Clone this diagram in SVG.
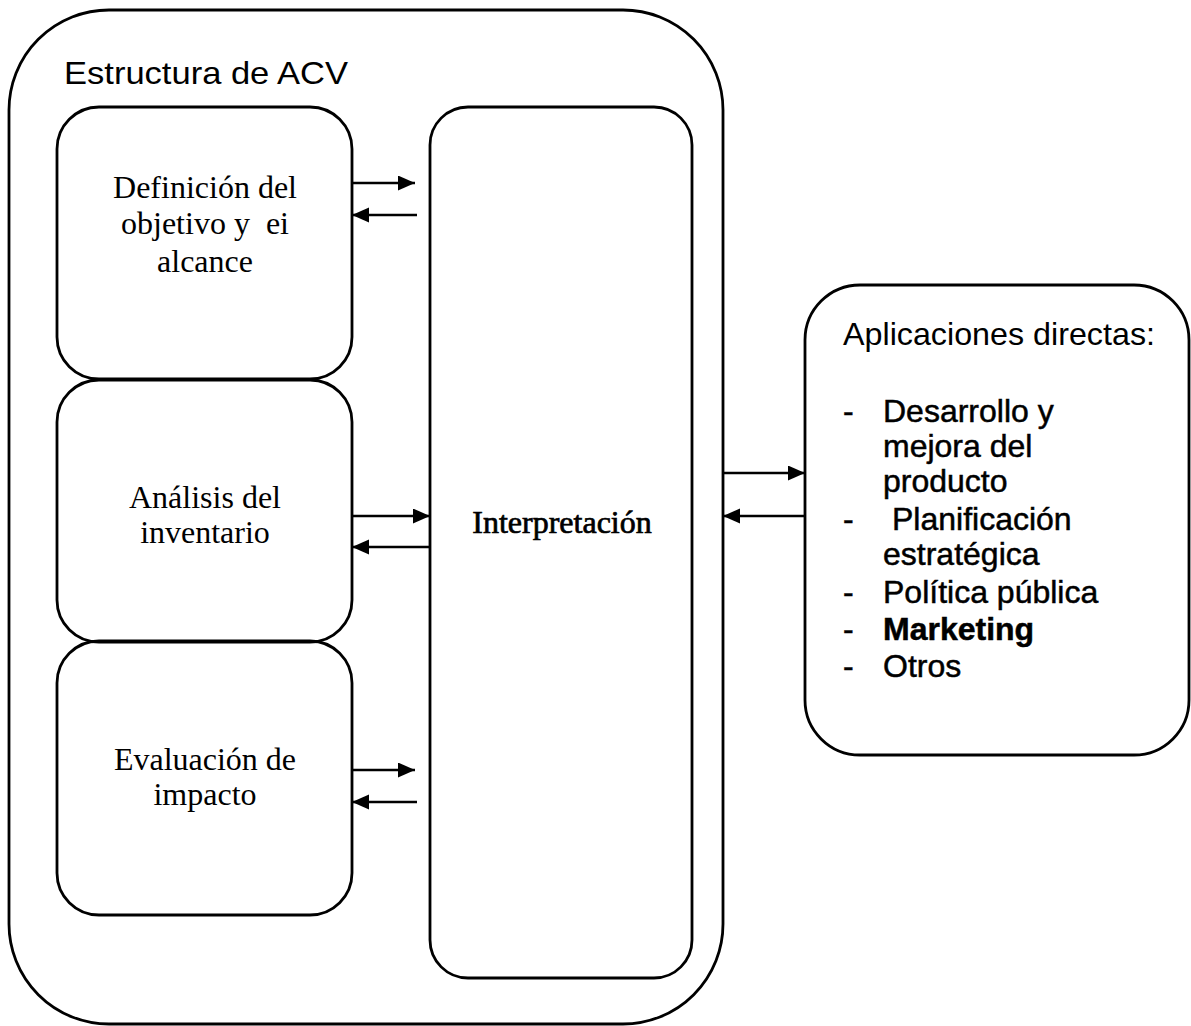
<svg xmlns="http://www.w3.org/2000/svg" width="1191" height="1026" viewBox="0 0 1191 1026">
<style>
.box{fill:none;stroke:#000;stroke-width:2.8}
.serif{font-family:"Liberation Serif","Times New Roman",serif;font-size:32px;fill:#000;text-anchor:middle}
.sans{font-family:"Liberation Sans",Arial,sans-serif;font-size:32px;fill:#000}
.item{stroke:#000;stroke-width:0.5}
.conn{stroke:#000;stroke-width:2.4;fill:none;marker-end:url(#ah)}
</style>
<defs>
<marker id="ah" markerUnits="userSpaceOnUse" markerWidth="18" markerHeight="16" refX="17" refY="7.5" orient="auto">
<path d="M0,0 L17,7.5 L0,15 z" fill="#000"/>
</marker>
</defs>
<g id="outer">
<rect class="box" x="9" y="10" width="714" height="1014" rx="100" ry="100"/>
<text class="sans" x="64" y="84" font-size="33" textLength="284" lengthAdjust="spacingAndGlyphs">Estructura de ACV</text>
</g>
<g id="definicion">
<rect class="box" x="57" y="107" width="295" height="272" rx="42" ry="42"/>
<text class="serif" x="205" y="198">Definición del</text>
<text class="serif" x="205" y="234" xml:space="preserve">objetivo y  ei</text>
<text class="serif" x="205" y="272">alcance</text>
</g>
<g id="analisis">
<rect class="box" x="57" y="380" width="295" height="262" rx="42" ry="42"/>
<text class="serif" x="205" y="508">Análisis del</text>
<text class="serif" x="205" y="543">inventario</text>
</g>
<g id="evaluacion">
<rect class="box" x="57" y="641" width="295" height="274" rx="42" ry="42"/>
<text class="serif" x="205" y="770">Evaluación de</text>
<text class="serif" x="205" y="805">impacto</text>
</g>
<g id="interpretacion">
<rect class="box" x="430" y="107" width="262" height="871" rx="38" ry="38"/>
<text class="serif" x="562" y="533" stroke="#000" stroke-width="0.7">Interpretación</text>
</g>
<g id="aplicaciones">
<rect class="box" x="805" y="285" width="384" height="470" rx="55" ry="55"/>
<text class="sans" x="843" y="345" textLength="312" lengthAdjust="spacingAndGlyphs">Aplicaciones directas:</text>
<g class="item">
<text class="sans" x="843" y="422">-</text>
<text class="sans" x="883" y="422">Desarrollo y</text>
<text class="sans" x="883" y="457">mejora del</text>
<text class="sans" x="883" y="492">producto</text>
<text class="sans" x="843" y="530">-</text>
<text class="sans" x="892" y="530">Planificación</text>
<text class="sans" x="883" y="565">estratégica</text>
<text class="sans" x="843" y="603">-</text>
<text class="sans" x="883" y="603">Política pública</text>
<text class="sans" x="843" y="640">-</text>
<text class="sans" x="883" y="640" font-weight="bold">Marketing</text>
<text class="sans" x="843" y="677">-</text>
<text class="sans" x="883" y="677">Otros</text>
</g>
</g>
<g id="connectors">
<line class="conn" x1="352" y1="183" x2="415" y2="183"/>
<line class="conn" x1="417" y1="215" x2="352" y2="215"/>
<line class="conn" x1="352" y1="516" x2="430" y2="516"/>
<line class="conn" x1="430" y1="547" x2="352" y2="547"/>
<line class="conn" x1="352" y1="770" x2="415" y2="770"/>
<line class="conn" x1="417" y1="802" x2="352" y2="802"/>
<line class="conn" x1="723" y1="473" x2="805" y2="473"/>
<line class="conn" x1="805" y1="516" x2="723" y2="516"/>
</g>
</svg>
